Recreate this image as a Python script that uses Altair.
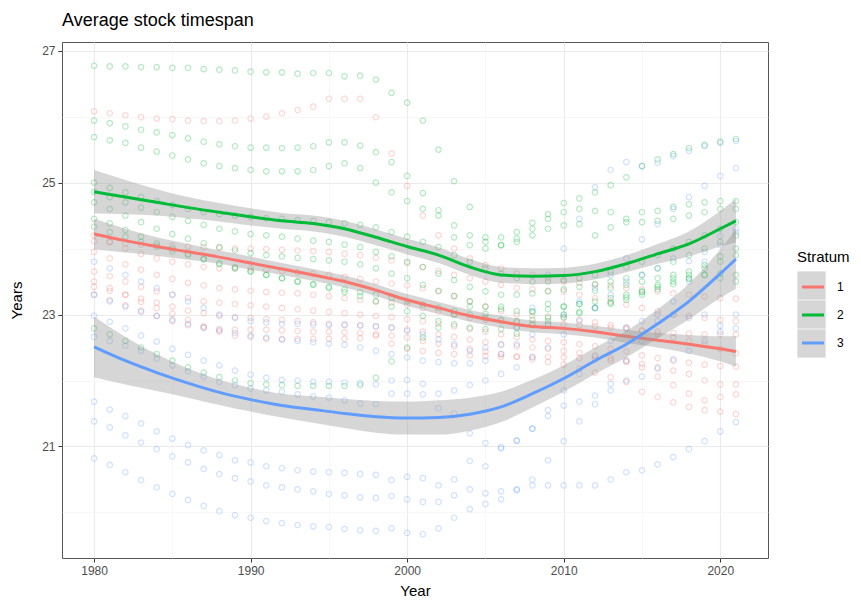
import altair as alt
import pandas as pd

years = list(range(1980, 2022))

# ---- scatter series (values read per year 1980..2021) ----
red_series = {
    "R1": [26.08, 26.05, 26.02, 25.99, 25.97, 25.96, 25.94, 25.93, 25.93, 25.94,
           25.97, 26.00, 26.05, 26.10, 26.15, 26.27, 26.27, 26.27, 25.99, 25.44,
           24.95, 24.50, 24.20, 24.00, 23.85, 23.75, 23.70, 23.62, 23.60, 23.55,
           23.50, 23.48, 23.45, 23.44, 23.40, 23.38, 23.35, 23.32, 23.30, 23.27,
           23.25, 23.24],
    "R2": [24.11, 24.10, 24.08, 24.06, 24.05, 24.04, 24.03, 24.02, 24.01, 24.00,
           24.00, 23.99, 23.98, 23.97, 23.96, 23.95, 23.92, 23.90, 23.86, 23.82,
           23.78, 23.72, 23.66, 23.60, 23.55, 23.50, 23.45, 23.40, 23.38, 23.36,
           23.35, 23.30, 23.25, 23.20, 23.15, 23.10, 23.05, 23.00, 22.98, 22.95,
           22.92, 22.90],
    "R3": [24.20, 24.10, 24.00, 23.92, 23.85, 23.80, 23.76, 23.72, 23.70, 23.70,
           23.70, 23.68, 23.66, 23.64, 23.62, 23.60, 23.57, 23.54, 23.50, 23.47,
           23.44, 23.40, 23.35, 23.28, 23.20, 23.12, 23.05, 23.00, 22.98, 22.97,
           22.95, 22.92, 22.88, 22.84, 22.80, 22.75, 22.70, 22.65, 22.60, 22.55,
           22.48, 22.41],
    "R4": [23.95, 23.85, 23.76, 23.68, 23.60, 23.54, 23.48, 23.44, 23.40, 23.38,
           23.36, 23.34, 23.33, 23.32, 23.30, 23.28, 23.25, 23.22, 23.20, 23.18,
           23.15, 23.10, 23.05, 23.00, 22.95, 22.92, 22.90, 22.88, 22.86, 22.85,
           22.85, 22.84, 22.82, 22.80, 22.78, 22.76, 22.74, 22.72, 22.71, 22.70,
           22.70, 22.70],
    "R5": [23.65, 23.58, 23.50, 23.42, 23.35, 23.30, 23.25, 23.20, 23.18, 23.16,
           23.14, 23.12, 23.10, 23.08, 23.06, 23.04, 23.02, 23.00, 22.98, 22.96,
           22.93, 22.90, 22.86, 22.82, 22.78, 22.74, 22.70, 22.66, 22.62, 22.60,
           22.58, 22.55, 22.52, 22.48, 22.44, 22.38, 22.34, 22.30, 22.27, 22.24,
           22.22, 22.21],
    "R6": [23.50, 23.40, 23.30, 23.19, 23.10, 23.01, 22.92, 22.82, 22.74, 22.68,
           22.66, 22.63, 22.63, 22.63, 22.63, 22.63, 22.63, 22.64, 22.68, 22.56,
           22.48, 22.45, 22.42, 22.40, 22.38, 22.37, 22.36, 22.36, 22.36, 22.36,
           22.35, 22.34, 22.32, 22.30, 22.28, 22.25, 22.20, 22.15, 22.10, 22.00,
           21.94, 21.94],
    "R7": [23.42, 23.36, 23.30, 23.24, 23.18, 23.12, 23.06, 23.02, 22.98, 22.96,
           22.95, 22.93, 22.92, 22.90, 22.88, 22.86, 22.85, 22.84, 22.82, 22.80,
           22.77, 22.74, 22.70, 22.66, 22.62, 22.58, 22.55, 22.52, 22.50, 22.48,
           22.45, 22.42, 22.38, 22.34, 22.30, 22.20, 22.06, 21.93, 21.80, 21.70,
           21.75, 21.79],
    "R8": [23.30, 23.22, 23.14, 23.06, 22.98, 22.90, 22.84, 22.80, 22.78, 22.77,
           22.77, 22.77, 22.76, 22.75, 22.74, 22.74, 22.73, 22.72, 22.70, 22.68,
           22.65, 22.60, 22.56, 22.52, 22.48, 22.44, 22.40, 22.36, 22.32, 22.28,
           22.24, 22.18, 22.12, 22.05, 21.98, 21.83, 21.75, 21.67, 21.60, 21.55,
           21.53, 21.49],
}

green_series = {
    "G1": [26.77, 26.76, 26.76, 26.75, 26.75, 26.74, 26.74, 26.72, 26.71, 26.70,
           26.68, 26.67, 26.67, 26.65, 26.66, 26.66, 26.61, 26.62, 26.56, 26.36,
           26.21, 25.94, 25.50, 25.02, 24.63, 24.17, 24.17, 24.25, 24.39, 24.52,
           24.69, 24.76, 24.85, 24.96, 25.08, 25.25, 25.35, 25.43, 25.52, 25.57,
           25.62, 25.66],
    "G2": [25.94, 25.90, 25.85, 25.80, 25.76, 25.72, 25.67, 25.62, 25.58, 25.55,
           25.53, 25.53, 25.52, 25.53, 25.55, 25.61, 25.61, 25.56, 25.46, 25.31,
           25.10, 24.84, 24.58, 24.17, 24.05, 24.00, 24.05, 24.15, 24.30, 24.45,
           24.55, 24.60, 24.57, 24.55, 24.45, 24.55, 24.57, 24.63, 24.67, 24.70,
           24.72, 24.72],
    "G3": [25.69, 25.64, 25.60, 25.53, 25.47, 25.41, 25.35, 25.29, 25.25, 25.22,
           25.19, 25.17, 25.17, 25.17, 25.19, 25.25, 25.29, 25.22, 25.00, 24.85,
           24.72, 24.60, 24.50, 24.35, 24.20, 24.10, 24.05, 24.10, 24.20, 24.30,
           24.35, 24.37, 24.20, 24.32, 24.40, 24.40, 24.42, 24.45, 24.50, 24.55,
           24.60, 24.60],
    "G4": [25.00, 24.92, 24.85, 24.78, 24.72, 24.66, 24.60, 24.55, 24.52, 24.50,
           24.48, 24.46, 24.45, 24.43, 24.42, 24.40, 24.38, 24.36, 24.32, 24.25,
           24.18, 24.10, 24.02, 23.90, 23.80, 23.70, 23.62, 23.55, 23.50, 23.50,
           23.52, 23.55, 23.60, 23.65, 23.72, 23.80, 23.90, 24.00, 24.10, 24.20,
           24.30, 24.40],
    "G5": [24.86, 24.78, 24.70, 24.62, 24.55, 24.48, 24.42, 24.36, 24.30, 24.26,
           24.22, 24.20, 24.18, 24.15, 24.12, 24.10, 24.06, 24.02, 23.95, 23.88,
           23.80, 23.72, 23.62, 23.52, 23.42, 23.35, 23.30, 23.30, 23.32, 23.35,
           23.38, 23.42, 23.46, 23.50, 23.55, 23.60, 23.70, 23.80, 23.90, 24.00,
           24.10, 24.20],
    "G6": [24.70, 24.60, 24.50, 24.40, 24.30, 24.22, 24.15, 24.08, 24.02, 23.97,
           23.93, 23.90, 23.88, 23.86, 23.84, 23.82, 23.80, 23.76, 23.70, 23.62,
           23.55, 23.45, 23.36, 23.28, 23.20, 23.12, 23.08, 23.05, 23.05, 23.08,
           23.12, 23.16, 23.20, 23.25, 23.30, 23.35, 23.45, 23.55, 23.65, 23.75,
           23.88, 24.00],
    "G7": [24.45, 24.38, 24.28, 24.18, 24.08, 24.00, 23.92, 23.84, 23.76, 23.70,
           23.65, 23.60, 23.55, 23.50, 23.46, 23.42, 23.38, 23.34, 23.30, 23.25,
           23.20, 23.15, 23.10, 23.05, 23.00, 22.95, 22.92, 22.90, 22.92, 22.95,
           23.00, 23.04, 23.10, 23.16, 23.22, 23.30, 23.38, 23.46, 23.54, 23.60,
           23.62, 23.60],
    "G8": [22.79, 22.70, 22.60, 22.50, 22.40, 22.30, 22.20, 22.12, 22.05, 22.00,
           21.96, 21.94, 21.93, 21.92, 21.92, 21.92, 21.92, 21.93, 22.04, 22.29,
           22.50, 22.65, 22.80, 23.00, 23.12, 23.01, 23.12, 22.71, 23.04, 23.16,
           23.12, 23.16, 23.36, 23.40, 23.45, 23.50, 23.55, 23.60, 23.55, 23.60,
           23.55, 23.50],
    "G9": [24.33, 24.25, 24.18, 24.10, 24.03, 23.96, 23.90, 23.84, 23.78, 23.72,
           23.66, 23.60, 23.55, 23.50, 23.45, 23.40, 23.34, 23.28, 23.20, 23.12,
           23.05, 22.98, 22.90, 22.85, 22.80, 22.78, 22.78, 22.80, 22.84, 22.90,
           22.96, 23.02, 23.10, 23.18, 23.26, 23.34, 23.42, 23.50, 23.60, 23.70,
           23.80, 23.90],
}

blue_series = {
    "B1": [22.98, 22.89, 22.79, 22.68, 22.59, 22.48, 22.39, 22.30, 22.23, 22.15,
           22.09, 22.04, 22.01, 22.00, 21.98, 21.98, 21.97, 21.96, 21.94, 22.00,
           22.01, 21.95, 21.80, 21.85, 21.93, 22.00, 22.10, 22.20, 22.35, 22.50,
           22.70, 22.90, 23.10, 23.30, 23.50, 23.60, 23.70, 23.85, 23.81, 23.95,
           24.19, 24.25],
    "B2": [22.66, 22.60, 22.53, 22.45, 22.33, 22.23, 22.14, 22.06, 21.98, 21.93,
           21.88, 21.85, 21.83, 21.79, 21.76, 21.74, 21.70, 21.65, 21.64, 21.80,
           21.80, 21.79, 21.58, 21.50, 21.20, 21.05, 20.97, 21.09, 21.27, 21.46,
           21.62, 21.68, 21.77, 21.85, 22.00, 22.06, 22.18, 22.32, 22.45, 22.60,
           22.74, 22.79],
    "B3": [23.80, 23.70, 23.60, 23.50, 23.40, 23.30, 23.20, 23.10, 23.00, 22.95,
           22.90, 22.88, 22.86, 22.86, 22.85, 22.84, 22.84, 22.83, 22.82, 22.80,
           22.75, 22.70, 22.62, 22.55, 22.45, 22.50, 22.54, 22.80, 23.10, 23.60,
           24.00, 24.45, 24.93, 25.19, 25.31, 25.25, 25.30, 25.40, 25.48, 25.55,
           25.60, 25.63],
    "B4": [23.30, 23.20, 23.12, 23.04, 22.98, 22.92, 22.86, 22.80, 22.76, 22.72,
           22.68, 22.65, 22.62, 22.60, 22.58, 22.56, 22.54, 22.50, 22.45, 22.40,
           22.35, 22.30, 22.28, 22.26, 22.26, 22.30, 22.40, 22.55, 22.70, 22.85,
           23.00, 23.20, 23.40, 23.60, 23.85, 24.14, 24.37, 24.60, 24.78, 24.95,
           25.10, 25.22],
    "B5": [21.68, 21.56, 21.46, 21.35, 21.23, 21.12, 21.02, 20.94, 20.87, 20.79,
           20.76, 20.70, 20.67, 20.64, 20.62, 20.61, 20.60, 20.58, 20.57, 20.49,
           20.54, 20.52, 20.41, 20.50, 20.78, 20.70, 20.99, 21.09, 21.27, 21.55,
           21.85, 22.10, 22.36, 22.60, 22.80, 22.90, 23.00, 23.00, 22.95, 23.00,
           22.83, 23.00],
    "B6": [21.38, 21.29, 21.17, 21.06, 20.96, 20.85, 20.76, 20.66, 20.58, 20.52,
           20.47, 20.41, 20.38, 20.35, 20.32, 20.28, 20.26, 20.23, 20.22, 20.25,
           20.20, 20.16, 20.16, 20.26, 20.35, 20.29, 20.32, 20.35, 20.50, 20.79,
           21.08, 21.38, 21.64, 21.95, 22.30, 22.60, 22.90, 23.20, 23.50, 23.80,
           24.05, 24.30],
    "B7": [20.82, 20.72, 20.61, 20.49, 20.38, 20.28, 20.19, 20.10, 20.02, 19.96,
           19.92, 19.87, 19.84, 19.81, 19.79, 19.78, 19.75, 19.73, 19.72, 19.76,
           19.69, 19.67, 19.76, 19.92, 20.05, 20.13, 20.20, 20.34, 20.41, 20.41,
           20.41, 20.41, 20.41, 20.50, 20.61, 20.64, 20.73, 20.84, 20.96, 21.08,
           21.23, 21.37],
}

# ---- smooth fits ----
fit_years = [1980, 1982, 1984, 1986, 1988, 1990, 1992, 1994, 1996, 1998, 2000,
             2002, 2004, 2006, 2008, 2010, 2012, 2014, 2016, 2018, 2020, 2021]
red_fit = [24.22, 24.12, 24.03, 23.95, 23.87, 23.78, 23.69, 23.60, 23.50, 23.37, 23.22,
           23.10, 22.98, 22.89, 22.82, 22.79, 22.74, 22.67, 22.61, 22.55, 22.48, 22.44]
red_se = [0.23, 0.18, 0.14, 0.12, 0.10, 0.10, 0.09, 0.09, 0.09, 0.09, 0.09,
          0.09, 0.09, 0.09, 0.09, 0.09, 0.09, 0.10, 0.11, 0.14, 0.19, 0.23]
green_fit = [24.86, 24.78, 24.70, 24.62, 24.55, 24.48, 24.42, 24.38, 24.30, 24.17, 24.03,
             23.90, 23.72, 23.60, 23.58, 23.59, 23.65, 23.77, 23.92, 24.07, 24.30, 24.42]
green_se = [0.33, 0.26, 0.20, 0.16, 0.14, 0.13, 0.12, 0.12, 0.12, 0.12, 0.12,
            0.12, 0.12, 0.12, 0.12, 0.12, 0.12, 0.13, 0.15, 0.19, 0.27, 0.33]
blue_fit = [22.51, 22.30, 22.12, 21.96, 21.82, 21.71, 21.62, 21.56, 21.50, 21.45, 21.43,
            21.44, 21.49, 21.60, 21.80, 22.03, 22.30, 22.55, 22.86, 23.20, 23.62, 23.84]
blue_se = [0.46, 0.36, 0.28, 0.22, 0.19, 0.18, 0.18, 0.20, 0.22, 0.24, 0.25,
           0.26, 0.25, 0.23, 0.21, 0.20, 0.20, 0.20, 0.22, 0.27, 0.37, 0.45]

strata = ["1", "2", "3"]
band_keys = ["k1", "k2", "k3"]
colors = ["#F8766D", "#00BA38", "#619CFF"]

rows = []
for s, group in zip(strata, [red_series, green_series, blue_series]):
    for name, vals in group.items():
        for yr, v in zip(years, vals):
            rows.append({"Year": yr, "Value": v, "Stratum": s, "Series": name})
points_df = pd.DataFrame(rows)

frows = []
for s, k, fit, se in zip(strata, band_keys, [red_fit, green_fit, blue_fit], [red_se, green_se, blue_se]):
    for yr, f, e in zip(fit_years, fit, se):
        frows.append({"Year": yr, "Fit": f, "Lo": f - e, "Hi": f + e, "Stratum": s, "Key": k})
fit_df = pd.DataFrame(frows)

FONT = "Liberation Sans"
xscale = alt.Scale(domain=[1977.95, 2023.05], nice=False, zero=False)
yscale = alt.Scale(domain=[19.31, 27.13], nice=False, zero=False)
cscale = alt.Scale(domain=strata, range=colors)
gscale = alt.Scale(domain=band_keys, range=["#999999"] * 3)

x_axis = alt.Axis(
    values=[1980, 1985, 1990, 1995, 2000, 2005, 2010, 2015, 2020],
    labelExpr="datum.value % 10 === 0 ? datum.label : ''",
    format="d", title="Year",
    gridColor={"condition": {"test": "datum.value % 10 === 0", "value": "#ebebeb"}, "value": "#f4f4f4"},
    gridWidth={"condition": {"test": "datum.value % 10 === 0", "value": 1.1}, "value": 0.7},
    tickOpacity={"condition": {"test": "datum.value % 10 === 0", "value": 1}, "value": 0},
)
y_axis = alt.Axis(
    values=[20, 21, 22, 23, 24, 25, 26, 27],
    labelExpr="datum.value % 2 === 1 ? datum.label : ''",
    format="d", title="Years",
    gridColor={"condition": {"test": "datum.value % 2 === 1", "value": "#ebebeb"}, "value": "#f4f4f4"},
    gridWidth={"condition": {"test": "datum.value % 2 === 1", "value": 1.1}, "value": 0.7},
    tickOpacity={"condition": {"test": "datum.value % 2 === 1", "value": 1}, "value": 0},
)

LX, LY = 735, 208
line_legend = alt.Legend(
    title="Stratum", orient="none", legendX=LX, legendY=LY,
    symbolType="M-0.78,0H0.78", symbolSize=800, symbolStrokeWidth=3,
    symbolOpacity=1, rowPadding=6, labelOffset=8, titlePadding=6,
    labelFontSize=12, labelColor="#000000", labelFont=FONT,
    titleFontSize=15, titleFontWeight="normal", titleColor="#000000", titleFont=FONT,
)
gray_legend = alt.Legend(
    title="Stratum", orient="none", legendX=LX, legendY=LY,
    symbolType="square", symbolSize=800, symbolStrokeWidth=0,
    symbolOpacity=0.4, rowPadding=0, labelOffset=8, titlePadding=6,
    labelFontSize=12, labelExpr="''", labelFont=FONT,
    titleFontSize=15, titleFontWeight="normal", titleOpacity=0, titleFont=FONT,
)

# empty band layer placed first so that the gray legend is drawn beneath the line legend
legend_holder = alt.Chart(fit_df).transform_filter("false").mark_area().encode(
    x=alt.X("Year:Q", scale=xscale, axis=x_axis),
    y=alt.Y("Lo:Q", scale=yscale, axis=y_axis),
    y2="Hi:Q",
    color=alt.Color("Key:N", scale=gscale, legend=gray_legend),
)

base_pts = alt.Chart(points_df).mark_point(
    filled=False, size=30, strokeWidth=1.2, opacity=1, strokeOpacity=0.3
).encode(
    x=alt.X("Year:Q", scale=xscale, axis=x_axis),
    y=alt.Y("Value:Q", scale=yscale, axis=y_axis),
    stroke=alt.Stroke("Stratum:N", scale=cscale, legend=line_legend),
    detail="Series:N",
)

layers = [legend_holder, base_pts]
for s in strata:
    band = alt.Chart(fit_df).transform_filter(alt.datum.Stratum == s).mark_area(
        opacity=0.4, interpolate="monotone"
    ).encode(
        x=alt.X("Year:Q", scale=xscale),
        y=alt.Y("Lo:Q", scale=yscale),
        y2="Hi:Q",
        color=alt.Color("Key:N", scale=gscale, legend=gray_legend),
    )
    line = alt.Chart(fit_df).transform_filter(alt.datum.Stratum == s).mark_line(
        strokeWidth=3, interpolate="monotone"
    ).encode(
        x=alt.X("Year:Q", scale=xscale),
        y=alt.Y("Fit:Q", scale=yscale),
        stroke=alt.Stroke("Stratum:N", scale=cscale, legend=line_legend),
    )
    layers += [band, line]

chart = alt.layer(*layers).properties(
    width=706, height=516,
    title=alt.TitleParams("Average stock timespan", anchor="start", frame="group",
                          fontSize=18, fontWeight="normal", font=FONT, color="#000000", offset=12),
    autosize=alt.AutoSizeParams(type="none"),
    padding={"left": 54, "top": 34, "right": 85, "bottom": 42},
).configure_view(
    stroke="#555555", strokeWidth=1
).configure_axis(
    domain=False, tickColor="#333333", tickSize=4, tickWidth=1,
    labelFont=FONT, labelFontSize=12, labelColor="#4d4d4d", labelPadding=3,
    titleFont=FONT, titleFontSize=15, titleFontWeight="normal", titleColor="#000000",
).configure_axisX(titlePadding=7).configure_axisY(titlePadding=17)

chart.save("out.html", embed_options={"renderer": "svg", "actions": False})
